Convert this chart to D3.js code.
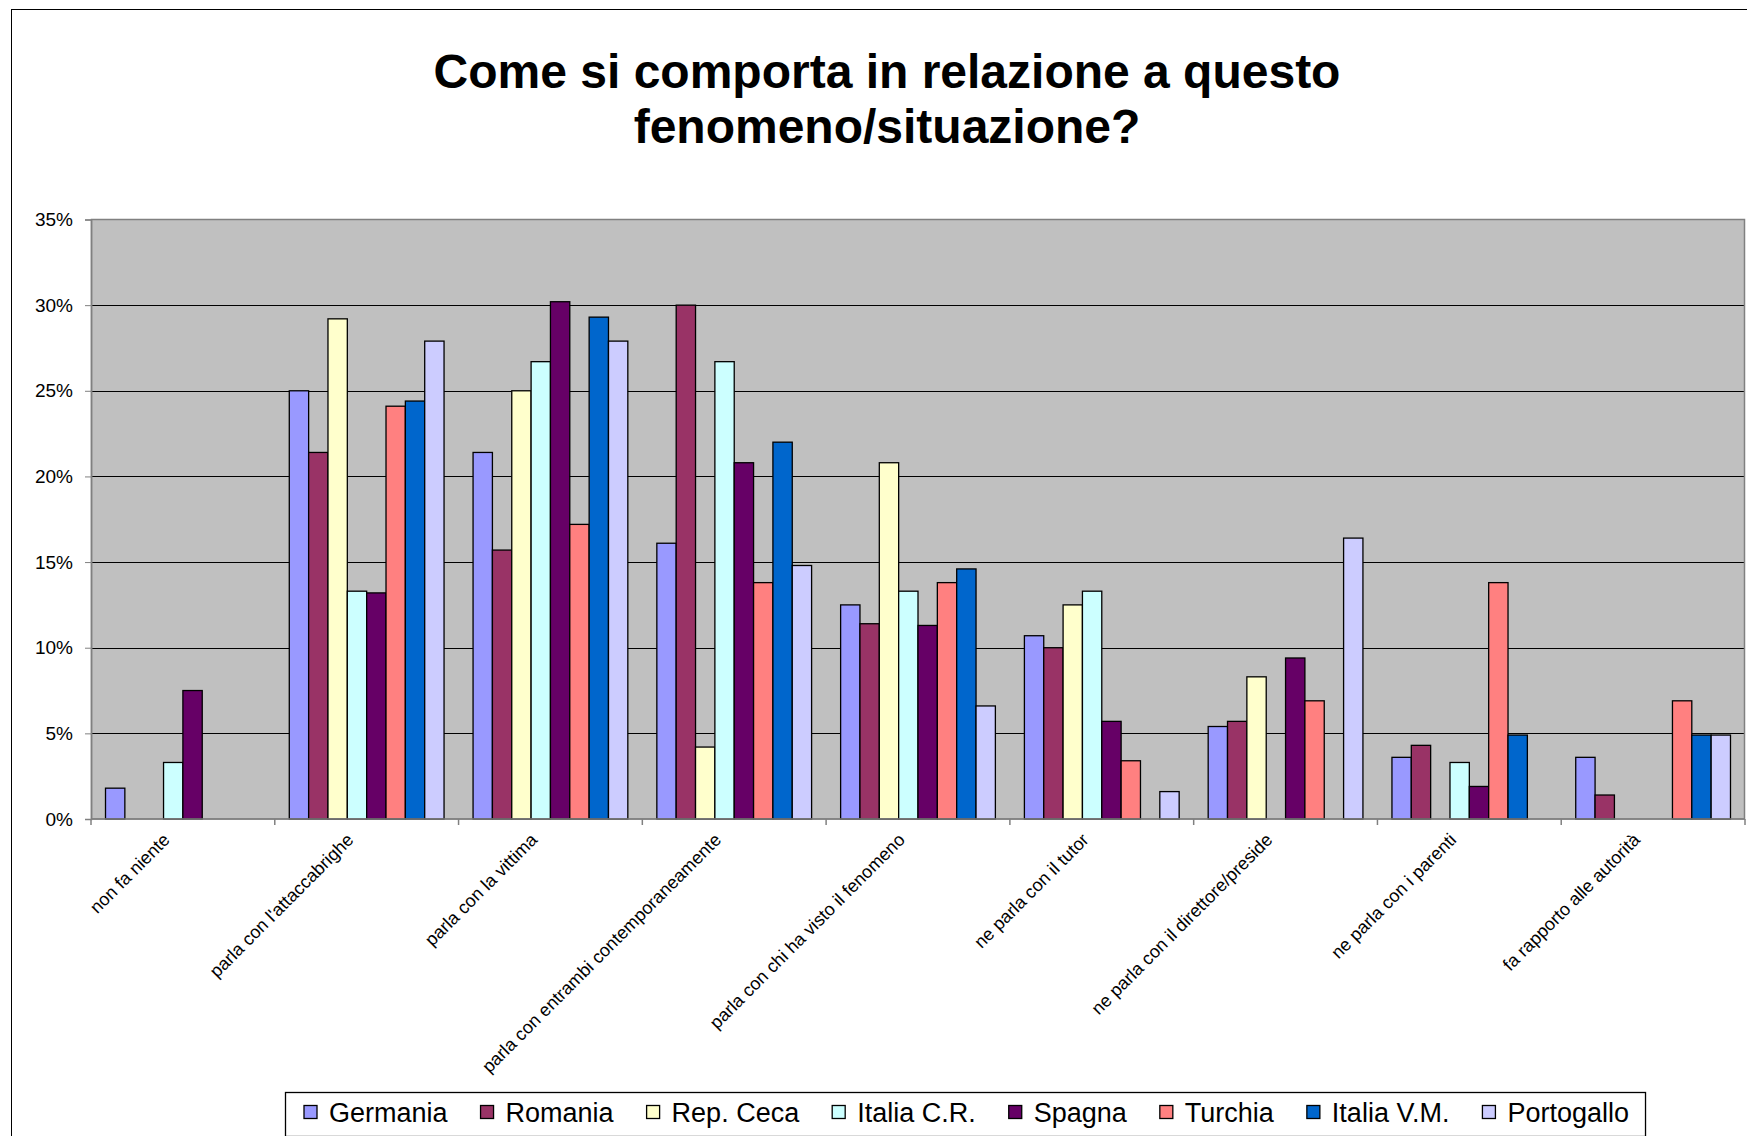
<!DOCTYPE html>
<html>
<head>
<meta charset="utf-8">
<script src="https://cdn.jsdelivr.net/npm/d3@7"></script>
<style>
  html, body { margin: 0; padding: 0; background: #fff; }
  svg { display: block; font-family: "Liberation Sans", Arial, sans-serif; }
</style>
</head>
<body>
<svg id="chart" width="1747" height="1136"></svg>
<script>
// Answer categories (x axis)
const categories = [
  "non fa niente",
  "parla con l'attaccabrighe",
  "parla con la vittima",
  "parla con entrambi contemporaneamente",
  "parla con chi ha visto il fenomeno",
  "ne parla con il tutor",
  "ne parla con il direttore/preside",
  "ne parla con i parenti",
  "fa rapporto alle autorità"
];

// Countries (series) and their fill colours
const seriesNames = ["Germania", "Romania", "Rep. Ceca", "Italia C.R.", "Spagna", "Turchia", "Italia V.M.", "Portogallo"];
const seriesColors = ["#9999FF", "#993366", "#FFFFCC", "#CCFFFF", "#660066", "#FF8080", "#0066CC", "#CCCCFF"];

// Percentages per country, one value per category (null = no answer)
const germania   = [1.8, 25.0, 21.4, 16.1, 12.5, 10.7, 5.4, 3.6, 3.6];
const romania    = [null, 21.4, 15.7, 30.0, 11.4, 10.0, 5.7, 4.3, 1.4];
const repCeca    = [null, 29.2, 25.0, 4.2, 20.8, 12.5, 8.3, null, null];
const italiaCR   = [3.3, 13.3, 26.7, 26.7, 13.3, 13.3, null, 3.3, null];
const spagna     = [7.5, 13.2, 30.2, 20.8, 11.3, 5.7, 9.4, 1.9, null];
const turchia    = [null, 24.1, 17.2, 13.8, 13.8, 3.4, 6.9, 13.8, 6.9];
const italiaVM   = [null, 24.4, 29.3, 22.0, 14.6, null, null, 4.9, 4.9];
const portogallo = [null, 27.9, 27.9, 14.8, 6.6, 1.6, 16.4, null, 4.9];

const seriesValues = [germania, romania, repCeca, italiaCR, spagna, turchia, italiaVM, portogallo];

// Y axis ticks
const yTicks = [0, 5, 10, 15, 20, 25, 30, 35];

const titleLines = ["Come si comporta in relazione a questo", "fenomeno/situazione?"];

const svg = d3.select("#chart");
const W = 1747, H = 1136;

const plot = { left: 91, right: 1745, top: 219.5, bottom: 819 };

// Outer chart frame
svg.append("rect")
  .attr("x", 11.5).attr("y", 9.5)
  .attr("width", W + 40).attr("height", H + 40)
  .attr("fill", "#fff").attr("stroke", "#000").attr("stroke-width", 1);

// Title
svg.append("g")
  .selectAll("text")
  .data(titleLines)
  .join("text")
  .attr("x", 887)
  .attr("y", (d, i) => 88 + i * 55)
  .attr("text-anchor", "middle")
  .attr("font-size", 48)
  .attr("font-weight", "bold")
  .attr("fill", "#000")
  .text(d => d);

// Scales
const x0 = d3.scaleBand().domain(categories).range([plot.left, plot.right]).paddingInner(0).paddingOuter(0);
const x1 = d3.scaleBand().domain(seriesNames).range([0, x0.bandwidth()]).paddingInner(0).paddingOuter(0.75);
const y = d3.scaleLinear().domain([0, 35]).range([plot.bottom, plot.top]);

// Plot background
svg.append("rect")
  .attr("x", plot.left).attr("y", plot.top)
  .attr("width", plot.right - plot.left).attr("height", plot.bottom - plot.top)
  .attr("fill", "#C0C0C0");

// Gridlines
svg.append("g")
  .selectAll("line")
  .data(yTicks.filter(t => t > 0 && t < 35))
  .join("line")
  .attr("x1", plot.left).attr("x2", plot.right)
  .attr("y1", d => Math.round(y(d)) + 0.5).attr("y2", d => Math.round(y(d)) + 0.5)
  .attr("stroke", "#000").attr("stroke-width", 1);

// Plot border
svg.append("rect")
  .attr("x", plot.left + 0.5).attr("y", plot.top)
  .attr("width", plot.right - plot.left - 1).attr("height", plot.bottom - plot.top)
  .attr("fill", "none").attr("stroke", "#808080").attr("stroke-width", 1.5);

// Bars
const barData = [];
seriesNames.forEach((s, si) => {
  categories.forEach((c, ci) => {
    const v = seriesValues[si][ci];
    if (v != null) barData.push({ s, c, v, color: seriesColors[si] });
  });
});

svg.append("g")
  .selectAll("rect")
  .data(barData)
  .join("rect")
  .attr("x", d => x0(d.c) + x1(d.s))
  .attr("y", d => y(d.v))
  .attr("width", x1.bandwidth())
  .attr("height", d => y(0) - y(d.v))
  .attr("fill", d => d.color)
  .attr("stroke", "#000")
  .attr("stroke-width", 1.3);

// Y axis
const yAxis = d3.axisLeft(y).tickValues(yTicks).tickSize(6).tickPadding(12).tickFormat(d => d + "%");
const gy = svg.append("g").attr("transform", `translate(${plot.left},0)`).call(yAxis);
gy.select(".domain").attr("stroke", "#808080").attr("stroke-width", 1.5);
gy.selectAll(".tick line").attr("stroke", "#808080");
gy.selectAll(".tick text").attr("font-size", 19).attr("fill", "#000")
  .attr("font-family", "'Liberation Sans', Arial, sans-serif");

// X axis: ticks at category boundaries
const gx = svg.append("g").attr("transform", `translate(0,${plot.bottom})`);
gx.append("line")
  .attr("x1", plot.left).attr("x2", plot.right)
  .attr("y1", 0).attr("y2", 0)
  .attr("stroke", "#808080").attr("stroke-width", 1.5);
const bounds = categories.map(c => x0(c)).concat([plot.right]);
gx.selectAll("line.tk")
  .data(bounds)
  .join("line")
  .attr("class", "tk")
  .attr("x1", d => d).attr("x2", d => d)
  .attr("y1", 0).attr("y2", 6)
  .attr("stroke", "#808080").attr("stroke-width", 1.5);

// Rotated category labels
gx.selectAll("text")
  .data(categories)
  .join("text")
  .attr("transform", d => `translate(${x0(d) + x0.bandwidth() / 2 - 12},${22}) rotate(-45)`)
  .attr("text-anchor", "end")
  .attr("font-size", 18)
  .attr("fill", "#000")
  .text(d => d);

// Legend
const legend = svg.append("g");
const legendY = 1113;
const swatch = 13;
let lx = 304;
seriesNames.forEach((s, i) => {
  const g = legend.append("g");
  g.append("rect")
    .attr("x", lx).attr("y", legendY - swatch / 2 - 1)
    .attr("width", swatch).attr("height", swatch)
    .attr("fill", seriesColors[i]).attr("stroke", "#000").attr("stroke-width", 1.3);
  const t = g.append("text")
    .attr("x", lx + swatch + 12).attr("y", legendY + 9)
    .attr("font-size", 27).attr("fill", "#000")
    .text(s);
  const tw = t.node().getComputedTextLength();
  lx += swatch + 12 + tw + 33;
});
legend.insert("rect", ":first-child")
  .attr("x", 285.5).attr("y", 1092.5)
  .attr("width", lx - 33 - 285 + 16).attr("height", 44)
  .attr("fill", "#fff").attr("stroke", "#000").attr("stroke-width", 1.3);
</script>
</body>
</html>
